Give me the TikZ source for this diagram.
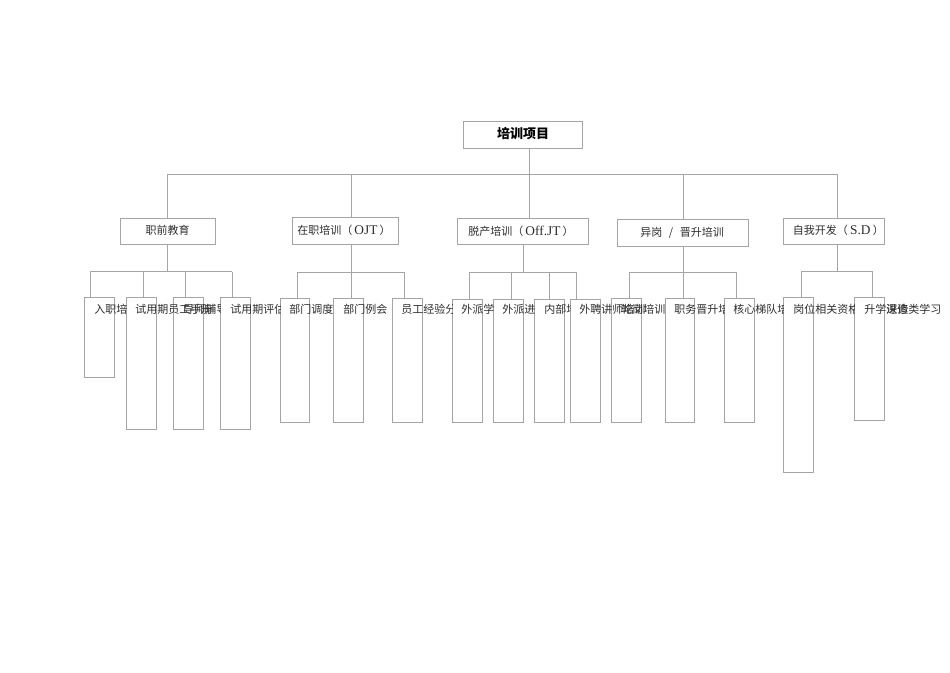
\documentclass[tikz,border=0pt]{standalone}
\usepackage{fontspec}
\setmainfont{Liberation Serif}
\newfontfamily\cjk{Noto Sans CJK SC}
\usetikzlibrary{fit}
\definecolor{linegray}{RGB}{165,165,165}
\definecolor{txt}{RGB}{45,45,45}
\newcommand{\lat}[1]{{\rmfamily\fontsize{10}{12}\selectfont #1}}
\newcommand{\cliptxt}[4]{\begin{scope}\clip (#2-2,292) rectangle (#3,328); \node[lbl] (#1) at (#2,309.5) {#4};\end{scope}}
\begin{document}
\begin{tikzpicture}[x=0.75pt,y=-0.75pt,
  box/.style={draw=linegray, line width=0.7pt, inner sep=0pt},
  conn/.style={draw=linegray, line width=0.7pt},
  lbl/.style={font=\cjk\fontsize{8.25}{10}\selectfont, text=txt, inner sep=0pt, anchor=west},
  toplbl/.style={font=\cjk\bfseries\fontsize{9.75}{12}\selectfont, text=black, inner sep=0pt}]
\useasboundingbox (0,0) rectangle (950,672);

% top
\node[box, fit={(463,121)(582,148)}] (top) {};
\node[toplbl] (toptxt) at (523,134) {培训项目};

% level 2 boxes
\node[box, fit={(120,218)(215,244)}] (g1) {};
\node[box, fit={(292,217)(398.5,244)}] (g2) {};
\node[box, fit={(457,218)(588,244)}] (g3) {};
\node[box, fit={(617,219)(748,246)}] (g4) {};
\node[box, fit={(783,218)(884.5,244)}] (g5) {};

\node[lbl, anchor=center] (t1) at (167.5,230.5) {职前教育};
\node[lbl] (t2) at (297,230.7) {在职培训（\lat{\,OJT\,}）};
\node[lbl] (t3) at (468,231.5) {脱产培训（\lat{\,Off.JT\,}）};
\node[lbl] (t4) at (640,232.5) {异岗\hspace{5pt}/\hspace{5pt}晋升培训};
\node[lbl] (t5) at (792.7,230.7) {自我开发（\lat{\,S.D\,}）};

% top bus
\coordinate (b1) at (167,174);
\coordinate (b2) at (351.5,174);
\coordinate (b3) at (529,174);
\coordinate (b4) at (683,174);
\coordinate (b5) at (837.5,174);
\draw[conn] (top.south -| b3) -- (b3);
\draw[conn] (b1) -- (b5);
\foreach \i in {1,...,5} {\draw[conn] (b\i) -- (b\i |- g\i.north);}

% level 3 boxes
\node[box, fit={(84.3,297.7)(114.3,377.7)}] (A) {};
\node[box, fit={(126,297.7)(156,429)}] (B) {};
\node[box, fit={(173.3,297.3)(203.3,429)}] (C) {};
\node[box, fit={(220.7,297.3)(250.7,429)}] (D) {};
\node[box, fit={(280.3,298.3)(309.7,422.3)}] (E) {};
\node[box, fit={(333.3,298.3)(363.3,422.3)}] (F) {};
\node[box, fit={(392.3,298.3)(422.3,422.3)}] (G) {};
\node[box, fit={(452,299.3)(482,422.3)}] (H) {};
\node[box, fit={(493.3,299.3)(523.3,422.3)}] (I) {};
\node[box, fit={(534.3,299.3)(564.7,422.3)}] (J) {};
\node[box, fit={(570,299.3)(600.7,422.3)}] (K) {};
\node[box, fit={(611.7,298.3)(641.3,422.3)}] (L) {};
\node[box, fit={(665.3,298.3)(694.7,422.3)}] (M) {};
\node[box, fit={(724.3,298.3)(754.3,422.3)}] (N) {};
\node[box, fit={(783.3,297.7)(813.3,472.3)}] (O) {};
\node[box, fit={(854.7,297.7)(884.7,420.3)}] (P) {};

% group 1 connectors
\coordinate (c1) at (167,271.7);
\coordinate (c1l) at (90,271.7);
\coordinate (c1b) at (143.5,271.7);
\coordinate (c1c) at (185,271.7);
\coordinate (c1r) at (232,271.7);
\draw[conn] (g1.south -| c1) -- (c1);
\draw[conn] (c1l) -- (c1r);
\draw[conn] (c1l) -- (c1l |- A.north);
\draw[conn] (c1b) -- (c1b |- B.north);
\draw[conn] (c1c) -- (c1c |- C.north);
\draw[conn] (c1r) -- (c1r |- D.north);

% group 2
\coordinate (c2) at (351.7,272);
\coordinate (c2l) at (297.7,272);
\coordinate (c2r) at (404.3,272);
\draw[conn] (g2.south -| c2) -- (c2);
\draw[conn] (c2l) -- (c2r);
\draw[conn] (c2l) -- (c2l |- E.north);
\draw[conn] (c2) -- (c2 |- F.north);
\draw[conn] (c2r) -- (c2r |- G.north);

% group 3
\coordinate (c3) at (523,272);
\coordinate (c3l) at (469.3,272);
\coordinate (c3b) at (511,272);
\coordinate (c3c) at (549.3,272);
\coordinate (c3r) at (576.7,272);
\draw[conn] (g3.south -| c3) -- (c3);
\draw[conn] (c3l) -- (c3r);
\draw[conn] (c3l) -- (c3l |- H.north);
\draw[conn] (c3b) -- (c3b |- I.north);
\draw[conn] (c3c) -- (c3c |- J.north);
\draw[conn] (c3r) -- (c3r |- K.north);

% group 4
\coordinate (c4) at (683,272);
\coordinate (c4l) at (629.3,272);
\coordinate (c4r) at (736,272);
\draw[conn] (g4.south -| c4) -- (c4);
\draw[conn] (c4l) -- (c4r);
\draw[conn] (c4l) -- (c4l |- L.north);
\draw[conn] (c4) -- (c4 |- M.north);
\draw[conn] (c4r) -- (c4r |- N.north);

% group 5
\coordinate (c5) at (837.7,271.3);
\coordinate (c5l) at (801.7,271.3);
\coordinate (c5r) at (872.3,271.3);
\draw[conn] (g5.south -| c5) -- (c5);
\draw[conn] (c5l) -- (c5r);
\draw[conn] (c5l) -- (c5l |- O.north);
\draw[conn] (c5r) -- (c5r |- P.north);

% level 3 texts (overflowing, clipped as printed)
\cliptxt{ta}{94}{126}{入职培训}
\cliptxt{tb}{135}{950}{试用期员工手册}
\cliptxt{tc}{183}{220.7}{导师辅导}
\cliptxt{td}{230}{280.3}{试用期评估}
\cliptxt{te}{289}{333.3}{部门调度}
\cliptxt{tf}{343}{950}{部门例会}
\cliptxt{tg}{401}{452}{员工经验分享}
\cliptxt{th}{461}{493.3}{外派学习}
\cliptxt{ti}{502}{534.3}{外派进修}
\cliptxt{tj}{544}{570}{内部培训}
\cliptxt{tk}{579}{950}{外聘讲师培训}
\cliptxt{tl}{621}{950}{轮岗培训}
\cliptxt{tm}{674}{724.3}{职务晋升培训}
\cliptxt{tn}{733}{783.3}{核心梯队培养}
\cliptxt{to}{793}{854.7}{岗位相关资格认证}
\cliptxt{tp}{864}{950}{升学深造}
\cliptxt{tq}{886}{950}{进修类学习}
\end{tikzpicture}
\end{document}
